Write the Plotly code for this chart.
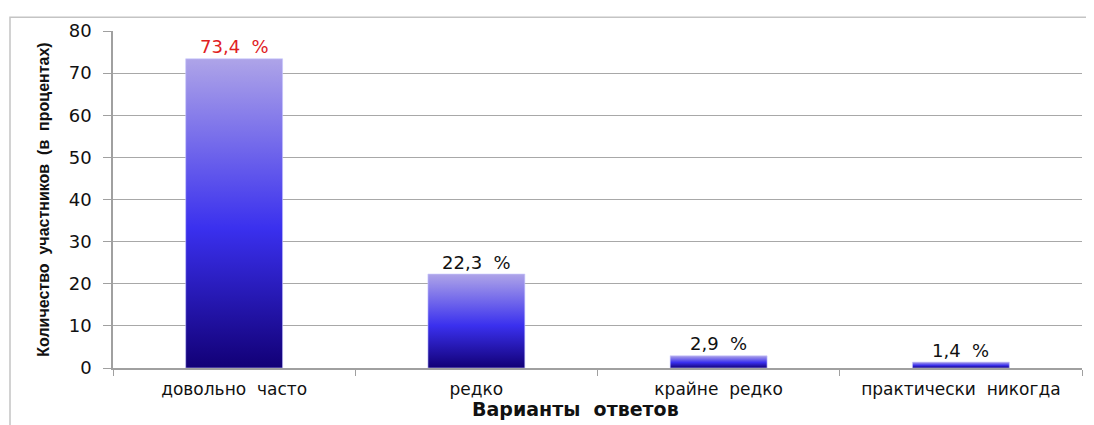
import plotly.graph_objects as go

categories = ["довольно  часто", "редко", "крайне  редко", "практически  никогда"]
values = [73.4, 22.3, 2.9, 1.4]
label_colors = ["#E0201E", "#111111", "#111111", "#111111"]
y_ticks = [0, 10, 20, 30, 40, 50, 60, 70, 80]

NB = "\u00a0"
cat_text = [c.replace("  ", NB + NB) for c in categories]

half_w = 0.2
grad = [[0, "rgb(18,0,118)"], [0.45, "rgb(58,48,238)"], [1, "rgb(174,164,232)"]]

fig = go.Figure()
for i, v in enumerate(values):
    fig.add_trace(go.Scatter(
        x=[i - half_w, i - half_w, i + half_w, i + half_w, i - half_w],
        y=[0, v, v, 0, 0],
        mode="lines", fill="toself",
        line=dict(color="rgba(200,200,255,0.6)", width=1),
        fillgradient=dict(type="vertical", colorscale=grad),
        showlegend=False, hoverinfo="skip"))

for i, v in enumerate(values):
    fig.add_annotation(
        x=i, y=v, yshift=12, showarrow=False, yanchor="middle",
        text=f"{v:.1f}".replace(".", ",") + NB + NB + "%",
        font=dict(family="DejaVu Sans", size=18, color=label_colors[i]))

# page offset of 8px (body margin) is accounted for in margins
OFF = 8
W, H = 1094, 425
L, R, T, B = 113 - OFF, 20, 25 - OFF, 65
pw, ph = W - L - R, H - T - B
fig.add_shape(type="rect", xref="paper", yref="paper",
              x0=(10 - OFF - L) / pw, x1=(W + 30 - L) / pw,
              y0=-(80) / ph, y1=(H - B - (11 - OFF)) / ph,
              line=dict(color="#C4C4C4", width=1.5), fillcolor="rgba(0,0,0,0)", layer="below")

# x-axis title (slightly left of plot centre, as in the original)
fig.add_annotation(
    xref="paper", yref="paper", x=(575 - 113) / pw, y=-(410 - 368) / ph,
    showarrow=False, xanchor="center", yanchor="middle",
    text="<b>Варианты" + NB + NB + "ответов</b>",
    font=dict(family="DejaVu Sans", size=19, color="#111111"))

fig.update_layout(
    width=W, height=H,
    margin=dict(l=L, r=R, t=T, b=B),
    paper_bgcolor="white", plot_bgcolor="white",
    font=dict(family="DejaVu Sans", size=16, color="#111111"),
    xaxis=dict(range=[-0.5, 3.5], tickvals=list(range(len(categories))), ticktext=cat_text,
               ticks="", showline=True, linecolor="#A0A0A0", linewidth=1.5, showgrid=False,
               zeroline=False, ticklabelstandoff=5,
               minor=dict(tickvals=[-0.5, 0.5, 1.5, 2.5, 3.5], ticks="outside", ticklen=6,
                          tickcolor="#A0A0A0", showgrid=False),
               tickfont=dict(size=17, color="#111111")),
    yaxis=dict(range=[0, 80], tickvals=y_ticks, ticks="outside", ticklen=8, tickcolor="#A0A0A0",
               showline=True, linecolor="#A0A0A0", linewidth=1.5,
               gridcolor="#A8A8A8", gridwidth=1.2, zeroline=False, ticklabelstandoff=8,
               tickfont=dict(size=18, color="#111111"),
               title=dict(text="<b>Количество" + NB + NB + "участников" + NB + NB + "(в" + NB + NB + "процентах)</b>",
                          font=dict(family="Liberation Sans", size=16),
                          standoff=15)),
)

fig.write_html("out.html")
